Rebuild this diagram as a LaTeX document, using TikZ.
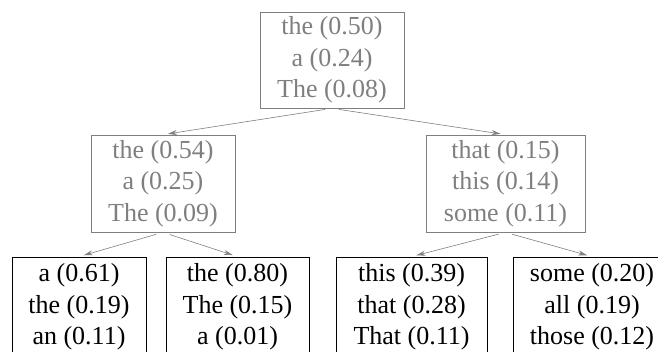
\documentclass[tikz,border=0pt]{standalone}
\usepackage{fontspec}
\setmainfont{Liberation Serif}
\usepackage{tikz}
\usetikzlibrary{arrows.meta}
\definecolor{arbregris}{HTML}{7F7F7F}
\definecolor{arbrenoir}{HTML}{000000}

\begin{document}
\begin{tikzpicture}[x=1pt, y=-1pt,
  every node/.style={font=\fontsize{26}{31.5}\selectfont, align=center, inner sep=0pt},
  boite/.style={draw, line width=0.7pt},
  gris/.style={boite, draw=arbregris, text=arbregris},
  noir/.style={boite, draw=arbrenoir, text=arbrenoir},
  fleche/.style={arbregris, line width=0.6pt, -{Stealth[length=9pt,width=5pt]}, shorten <=7pt, shorten >=5pt}]
  \clip (0,0) rectangle (658,352);
  % racine
  \node[gris, minimum width=144pt, minimum height=96pt] (racine) at (332,60) {the (0.50)\\a (0.24)\\The (0.08)};
  % niveau du milieu
  \node[gris, minimum width=144pt, minimum height=97pt] (mgauche) at (163,183.5) {the (0.54)\\a (0.25)\\The (0.09)};
  \node[gris, minimum width=159pt, minimum height=97pt] (mdroite) at (505.5,183.5) {that (0.15)\\this (0.14)\\some (0.11)};
  % feuilles
  \node[noir, minimum width=134pt, minimum height=100pt] (f1) at (79,307) {a (0.61)\\the (0.19)\\an (0.11)};
  \node[noir, minimum width=143pt, minimum height=100pt] (f2) at (237.5,307) {the (0.80)\\The (0.15)\\a (0.01)};
  \node[noir, minimum width=151pt, minimum height=100pt] (f3) at (411.5,307) {this (0.39)\\that (0.28)\\That (0.11)};
  \node[noir, minimum width=158pt, minimum height=100pt] (f4) at (592,307) {some (0.20)\\all (0.19)\\those (0.12)};
  % fleches
  \foreach \a/\b in {racine/mgauche, racine/mdroite, mgauche/f1, mgauche/f2, mdroite/f3, mdroite/f4}
    \draw[fleche] (\a.south) -- (\b.north);
\end{tikzpicture}
\end{document}
